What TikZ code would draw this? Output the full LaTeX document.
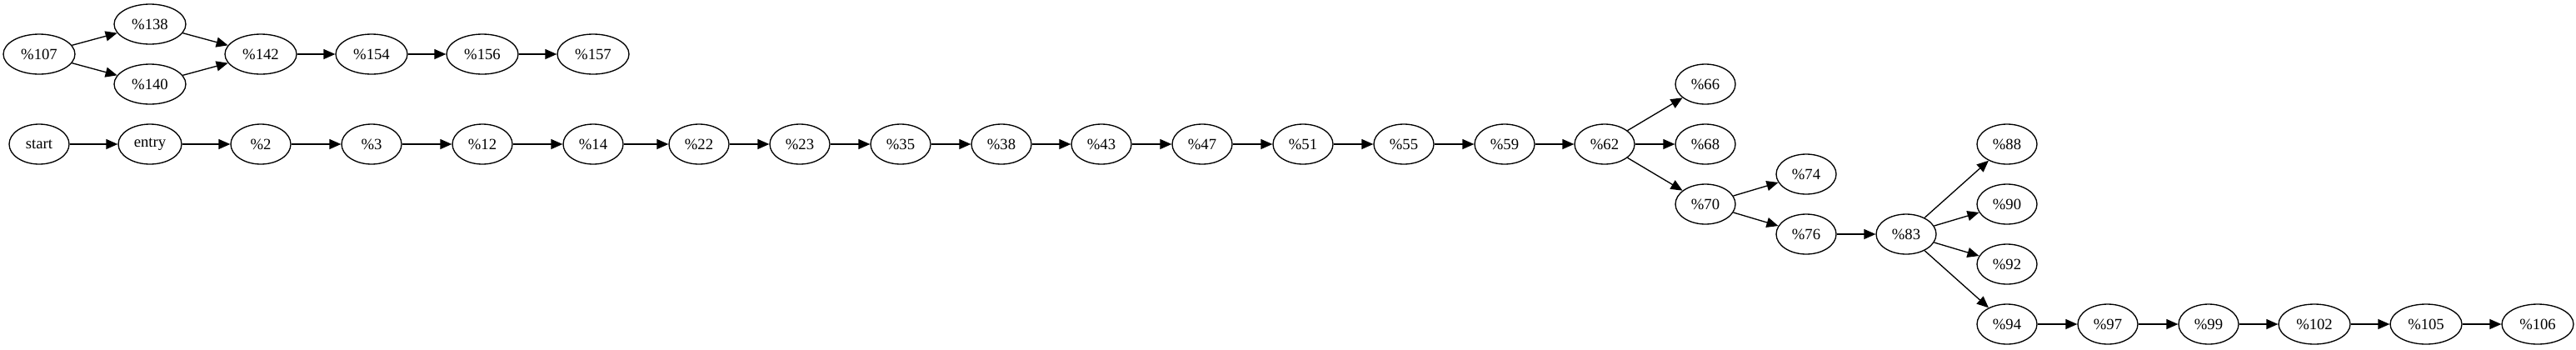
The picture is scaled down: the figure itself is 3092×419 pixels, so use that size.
\documentclass[tikz,border=0pt]{standalone}
\usepackage{fontspec}
\setmainfont{Liberation Serif}
\usetikzlibrary{shapes.geometric,arrows.meta}

\begin{document}
\begin{tikzpicture}[x=0.75pt,y=-0.75pt,line width=1pt,
   >={Triangle[length=10.5pt,width=9pt]},
   blk/.style={ellipse,draw,inner sep=0pt,minimum width=54pt,minimum height=36pt,
     font=\fontsize{14}{16}\selectfont},
   wideblk/.style={blk,minimum width=64.5pt}]
   \useasboundingbox (0,0) rectangle (3092,419);
   % upper block
   \node[wideblk] (b107) at (47,65) {\%107};
   \node[wideblk] (b138) at (180,29) {\%138};
   \node[wideblk] (b140) at (180,101) {\%140};
   \node[wideblk] (b142) at (313,65) {\%142};
   \node[wideblk] (b154) at (446,65) {\%154};
   \node[wideblk] (b156) at (579,65) {\%156};
   \node[wideblk] (b157) at (712,65) {\%157};
   \draw[->] (b107) -- (b138);
   \draw[->] (b107) -- (b140);
   \draw[->] (b138) -- (b142);
   \draw[->] (b140) -- (b142);
   \draw[->] (b142) -- (b154);
   \draw[->] (b154) -- (b156);
   \draw[->] (b156) -- (b157);
   % main chain
   \node[blk] (start) at (47,173) {start};
   \node[blk,minimum width=57pt] (entry) at (180,173) {entry};
   \node[blk] (b2) at (313,173) {\%2};
   \node[blk] (b3) at (446,173) {\%3};
   \node[blk] (b12) at (579,173) {\%12};
   \node[blk] (b14) at (712,173) {\%14};
   \node[blk] (b22) at (839,173) {\%22};
   \node[blk] (b23) at (960,173) {\%23};
   \node[blk] (b35) at (1081,173) {\%35};
   \node[blk] (b38) at (1202,173) {\%38};
   \node[blk] (b43) at (1322,173) {\%43};
   \node[blk] (b47) at (1443,173) {\%47};
   \node[blk] (b51) at (1564,173) {\%51};
   \node[blk] (b55) at (1685,173) {\%55};
   \node[blk] (b59) at (1806,173) {\%59};
   \node[blk] (b62) at (1926,173) {\%62};
   \draw[->] (start) -- (entry);
   \draw[->] (entry) -- (b2);
   \draw[->] (b2) -- (b3);
   \draw[->] (b3) -- (b12);
   \draw[->] (b12) -- (b14);
   \draw[->] (b14) -- (b22);
   \draw[->] (b22) -- (b23);
   \draw[->] (b23) -- (b35);
   \draw[->] (b35) -- (b38);
   \draw[->] (b38) -- (b43);
   \draw[->] (b43) -- (b47);
   \draw[->] (b47) -- (b51);
   \draw[->] (b51) -- (b55);
   \draw[->] (b55) -- (b59);
   \draw[->] (b59) -- (b62);
   % branches
   \node[blk] (b66) at (2047,101) {\%66};
   \node[blk] (b68) at (2047,173) {\%68};
   \node[blk] (b70) at (2047,245) {\%70};
   \node[blk] (b74) at (2168,209) {\%74};
   \node[blk] (b76) at (2168,281) {\%76};
   \node[blk] (b83) at (2288,281) {\%83};
   \draw[->] (b62) -- (b66);
   \draw[->] (b62) -- (b68);
   \draw[->] (b62) -- (b70);
   \draw[->] (b70) -- (b74);
   \draw[->] (b70) -- (b76);
   \draw[->] (b76) -- (b83);
   \node[blk] (b88) at (2409,173) {\%88};
   \node[blk] (b90) at (2409,245) {\%90};
   \node[blk] (b92) at (2409,317) {\%92};
   \node[blk] (b94) at (2409,389) {\%94};
   \draw[->] (b83) -- (b88);
   \draw[->] (b83) -- (b90);
   \draw[->] (b83) -- (b92);
   \draw[->] (b83) -- (b94);
   % tail
   \node[blk] (b97) at (2530,389) {\%97};
   \node[blk] (b99) at (2651,389) {\%99};
   \node[wideblk] (b102) at (2778,389) {\%102};
   \node[wideblk] (b105) at (2912,389) {\%105};
   \node[wideblk] (b106) at (3046,389) {\%106};
   \draw[->] (b94) -- (b97);
   \draw[->] (b97) -- (b99);
   \draw[->] (b99) -- (b102);
   \draw[->] (b102) -- (b105);
   \draw[->] (b105) -- (b106);
\end{tikzpicture}
\end{document}
